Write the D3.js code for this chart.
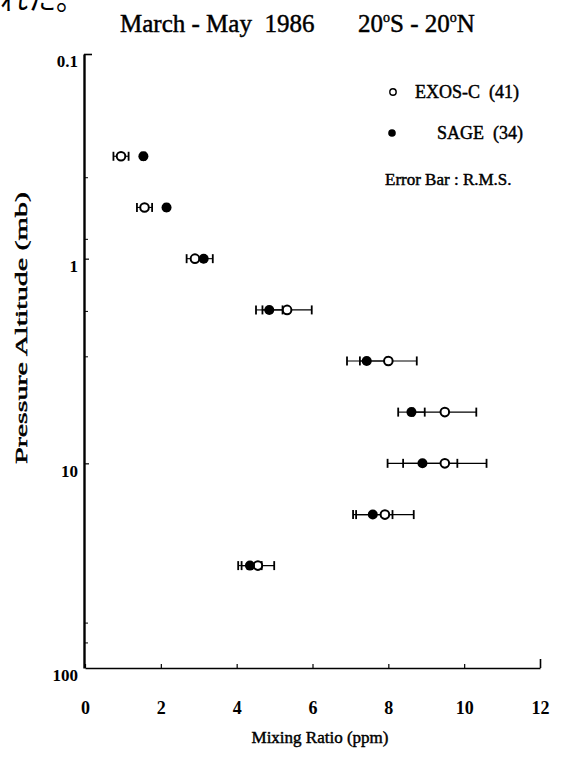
<!DOCTYPE html>
<html><head><meta charset="utf-8">
<script src="https://cdn.jsdelivr.net/npm/d3@7"></script>
<style>
body{margin:0;background:#fff;}
svg{display:block;}
text{font-family:"Liberation Serif","DejaVu Serif",serif;fill:#000;}
.heavy{stroke:#000;stroke-width:0.45px;}
</style></head>
<body>
<svg id="c" width="587" height="757"></svg>
<script>
// ---- data ----
const pressure   = [0.316, 0.562, 1, 1.78, 3.16, 5.62, 10, 17.8, 31.6];   // mb
const exosValues = [0.95, 1.57, 2.9, 5.33, 8.0, 9.49, 9.49, 7.91, 4.56];   // ppm
const exosRMS    = [0.2, 0.2, 0.22, 0.65, 0.75, 0.83, 1.1, 0.76, 0.43];
const sageValues = [1.54, 2.15, 3.13, 4.86, 7.43, 8.61, 8.90, 7.59, 4.35];
const sageRMS    = [0.05, 0.05, 0.24, 0.35, 0.52, 0.35, 0.92, 0.52, 0.31];
const xTicks = [0, 2, 4, 6, 8, 10, 12];
const yTicks = [0.1, 1, 10, 100];
const yMinorTicks = [0.4, 0.8, 1.8, 3, 60, 75];
const legendLabels = ["EXOS-C  (41)", "SAGE  (34)"];

const svg = d3.select("#c");
const x = d3.scaleLinear().domain([0, 12]).range([85, 540]);
const y = d3.scaleLog().domain([0.1, 100]).range([54, 668]);

// partial Japanese text at the very top (cut off in the reference too)
svg.append("text").attr("x", 0).attr("y", 10)
  .style("font-family", "'Noto Sans CJK JP'").style("font-size", "28px").text("れた。");

// title
svg.append("text").attr("class", "heavy").attr("x", 120).attr("y", 32).style("font-size", "25px")
  .attr("xml:space", "preserve").text("March - May  1986");
const t2 = svg.append("text").attr("class", "heavy").attr("x", 358).attr("y", 32).style("font-size", "25px");
t2.append("tspan").text("20");
t2.append("tspan").attr("dy", -10).style("font-size", "14px").text("o");
t2.append("tspan").attr("dy", 10).text("S - 20");
t2.append("tspan").attr("dy", -10).style("font-size", "14px").text("o");
t2.append("tspan").attr("dy", 10).text("N");

// x axis
const gx = svg.append("g").attr("transform", "translate(0,668)")
  .call(d3.axisBottom(x).tickValues(xTicks).tickSize(-4).tickSizeOuter(0).tickPadding(33).tickFormat(d3.format("d")));
gx.select(".domain").attr("stroke-width", 1.6);
gx.selectAll(".tick line").attr("stroke-width", 1.2);
gx.selectAll(".tick").filter(d => d === 12).select("line").attr("y2", -9).attr("stroke-width", 1.6);
gx.selectAll("text").style("font-size", "18px").style("font-weight", "bold")
  .style("font-family", "'Liberation Serif',serif");

// y axis
const gy = svg.append("g").attr("transform", "translate(84,0)")
  .call(d3.axisLeft(y).tickValues(yTicks).tickSize(-5).tickSizeOuter(0).tickPadding(6)
    .tickFormat(d => d < 1 ? "0.1" : d3.format("d")(d)));
gy.select(".domain").attr("stroke-width", 2.4);
gy.selectAll(".tick line").attr("stroke-width", 1.2);
gy.selectAll(".tick").filter(d => d === 0.1).select("line").attr("x2", 8).attr("stroke-width", 1.6);
gy.selectAll(".tick").filter(d => d === 100).select("line").remove();
gy.selectAll("text").attr("dy", "0.75em").style("font-size", "17px").style("font-weight", "bold")
  .style("font-family", "'Liberation Serif',serif");

svg.append("g").attr("transform", "translate(84,0)")
  .call(d3.axisLeft(y).tickValues(yMinorTicks).tickSize(-4).tickFormat(""))
  .call(g => g.select(".domain").remove())
  .selectAll("line").attr("stroke-width", 1);

// axis titles
svg.append("text").attr("class", "heavy").attr("x", 320).attr("y", 743).attr("text-anchor", "middle")
  .style("font-size", "17px").text("Mixing Ratio (ppm)");
svg.append("text").attr("class", "heavy").attr("transform", "translate(27,328) rotate(-90)").attr("text-anchor", "middle")
  .attr("textLength", 272).attr("lengthAdjust", "spacingAndGlyphs")
  .style("font-size", "17px").text("Pressure Altitude (mb)");

// data rows
const rows = pressure.map((p, i) => ({p, ev: exosValues[i], ee: exosRMS[i], sv: sageValues[i], se: sageRMS[i]}));

function errorBars(cls, val, err) {
  const g = svg.append("g").attr("class", cls);
  g.selectAll("line.bar").data(rows).join("line").attr("class", "bar")
    .attr("x1", d => x(d[val] - d[err])).attr("x2", d => x(d[val] + d[err]))
    .attr("y1", d => y(d.p)).attr("y2", d => y(d.p)).attr("stroke", "#000").attr("stroke-width", 1.1);
  [-1, 1].forEach(s => {
    g.selectAll("line.cap" + (s > 0 ? "r" : "l")).data(rows).join("line").attr("class", "cap" + (s > 0 ? "r" : "l"))
      .attr("x1", d => x(d[val] + s * d[err])).attr("x2", d => x(d[val] + s * d[err]))
      .attr("y1", d => y(d.p) - 4.5).attr("y2", d => y(d.p) + 4.5).attr("stroke", "#000").attr("stroke-width", 1.8);
  });
}
errorBars("sage-err", "sv", "se");
errorBars("exos-err", "ev", "ee");

svg.append("g").selectAll("circle").data(rows).join("circle")
  .attr("cx", d => x(d.ev)).attr("cy", d => y(d.p)).attr("r", 4.3)
  .attr("fill", "#fff").attr("stroke", "#000").attr("stroke-width", 2);
svg.append("g").selectAll("circle").data(rows).join("circle")
  .attr("cx", d => x(d.sv)).attr("cy", d => y(d.p)).attr("r", 5).attr("fill", "#000");

// legend
svg.append("circle").attr("cx", 393).attr("cy", 92).attr("r", 3.2)
  .attr("fill", "#fff").attr("stroke", "#000").attr("stroke-width", 1.4);
svg.append("circle").attr("cx", 392).attr("cy", 133).attr("r", 3.8).attr("fill", "#000");
svg.append("text").attr("class", "heavy").attr("x", 415).attr("y", 98).attr("xml:space", "preserve")
  .style("font-size", "18px").text(legendLabels[0]);
svg.append("text").attr("class", "heavy").attr("x", 437).attr("y", 139).attr("xml:space", "preserve")
  .style("font-size", "18px").text(legendLabels[1]);
svg.append("text").attr("class", "heavy").attr("x", 385).attr("y", 185).style("font-size", "17px").text("Error Bar : R.M.S.");
</script>
</body></html>
